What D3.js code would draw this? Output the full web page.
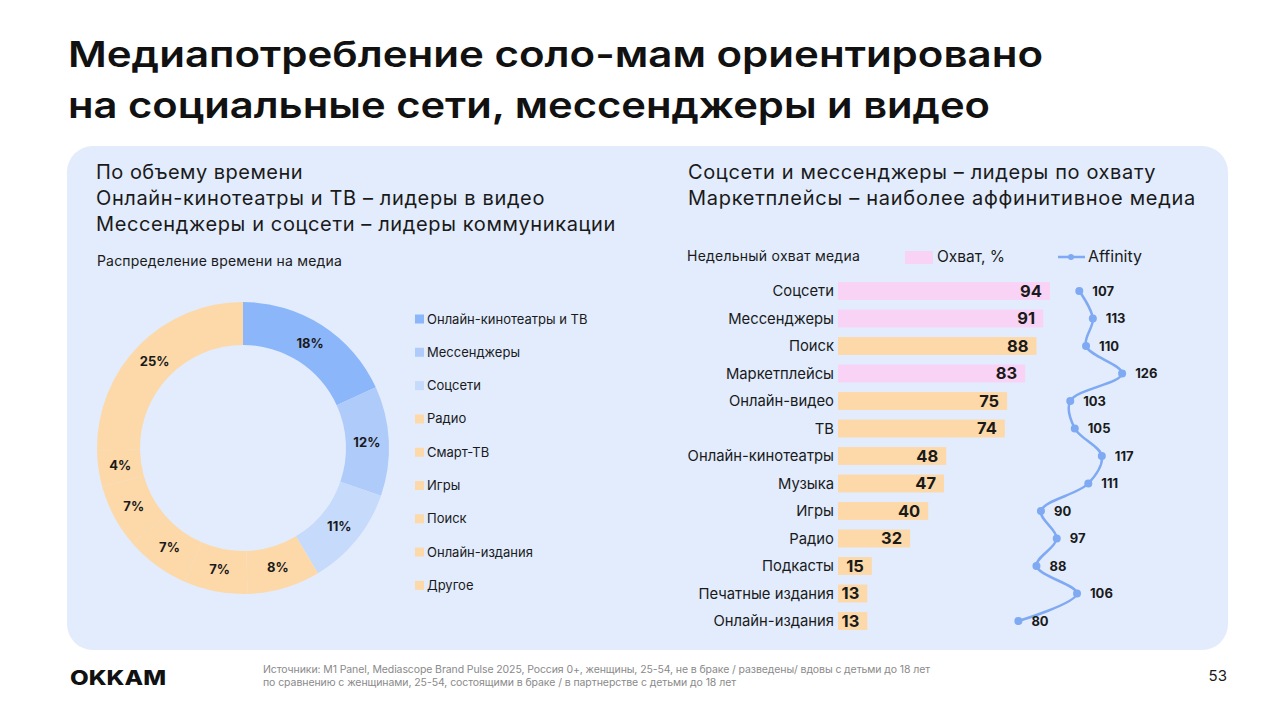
<!DOCTYPE html>
<html>
<head>
<meta charset="utf-8">
<script src="https://cdn.jsdelivr.net/npm/d3@7"></script>
<style>
  body { margin: 0; background: #fff; }
  svg { display: block; font-family: Inter, "Noto Sans", sans-serif; }
</style>
</head>
<body>
<div id="chart"></div>
<script>
// donut: share of time by media
const donutNames = ['Онлайн-кинотеатры и ТВ', 'Мессенджеры', 'Соцсети', 'Радио', 'Смарт-ТВ', 'Игры', 'Поиск', 'Онлайн-издания', 'Другое'];
const donutValues = [18, 12, 11, 8, 7, 7, 7, 4, 25];
const donutColors = ['#8cb6fa', '#afcbfa', '#c6dafc', '#fdd9a9', '#fdd9a9', '#fdd9a9', '#fdd9a9', '#fdd9a9', '#fdd9a9'];

// bars: weekly reach, affinity
const reachMedia = ['Соцсети', 'Мессенджеры', 'Поиск', 'Маркетплейсы', 'Онлайн-видео', 'ТВ', 'Онлайн-кинотеатры', 'Музыка', 'Игры', 'Радио', 'Подкасты', 'Печатные издания', 'Онлайн-издания'];
const reachValues = [94, 91, 88, 83, 75, 74, 48, 47, 40, 32, 15, 13, 13];
const affinityValues = [107, 113, 110, 126, 103, 105, 117, 111, 90, 97, 88, 106, 80];
const highlighted = ['Соцсети', 'Мессенджеры', 'Маркетплейсы'];

const width = 1280, height = 715;
const pink = '#f9d3f5', orange = '#fdd9a9', lineBlue = '#7fa9f3';

const svg = d3.select('#chart').append('svg')
  .attr('width', width).attr('height', height)
  .attr('viewBox', [0, 0, width, height]);

// stretch a text to a given width with letter-spacing (the slide font is wider than Inter)
function fit(sel, w) {
  sel.each(function () {
    const len = this.getComputedTextLength();
    const n = this.textContent.length;
    d3.select(this).attr('letter-spacing', (w - len) / n);
  });
}

// title - glyphs stretched, the slide uses a wide grotesque
const title = svg.append('g').attr('font-size', 36).attr('font-weight', 600).attr('fill', '#111');
title.append('text').attr('x', 68).attr('y', 67).attr('textLength', 975).attr('lengthAdjust', 'spacingAndGlyphs')
  .text('Медиапотребление соло-мам ориентировано');
title.append('text').attr('x', 68).attr('y', 118).attr('textLength', 922).attr('lengthAdjust', 'spacingAndGlyphs')
  .text('на социальные сети, мессенджеры и видео');

// panel
svg.append('rect').attr('x', 67).attr('y', 146).attr('width', 1161).attr('height', 504)
  .attr('rx', 26).attr('fill', '#e2ecfd');

const sub = svg.append('g').attr('font-size', 20).attr('fill', '#1a1a1a');
const subLeft = ['По объему времени', 'Онлайн-кинотеатры и ТВ – лидеры в видео', 'Мессенджеры и соцсети – лидеры коммуникации'];
const subLeftW = [207, 449, 520];
subLeft.forEach((t, i) => fit(sub.append('text').attr('x', 96).attr('y', 179 + i * 26).text(t), subLeftW[i]));
const subRight = ['Соцсети и мессенджеры – лидеры по охвату', 'Маркетплейсы – наиболее аффинитивное медиа'];
const subRightW = [468, 508];
subRight.forEach((t, i) => fit(sub.append('text').attr('x', 688).attr('y', 179 + i * 26).text(t), subRightW[i]));

fit(svg.append('text').attr('x', 97).attr('y', 266).attr('font-size', 14).attr('fill', '#1a1a1a')
  .text('Распределение времени на медиа'), 245);

// donut
const cx = 243, cy = 448, rOuter = 146, rInner = 103;
const pie = d3.pie().sort(null).value(d => d)(donutValues);
const arc = d3.arc().innerRadius(rInner).outerRadius(rOuter);
const labelArc = d3.arc().innerRadius(124).outerRadius(124);
const donut = svg.append('g').attr('transform', `translate(${cx},${cy})`);
donut.selectAll('path').data(pie).join('path')
  .attr('d', arc).attr('fill', (d, i) => donutColors[i]);
donut.selectAll('text').data(pie).join('text')
  .attr('transform', d => `translate(${labelArc.centroid(d)})`)
  .attr('text-anchor', 'middle').attr('dy', '0.35em')
  .attr('font-size', 13).attr('font-weight', 700).attr('fill', '#1a1a1a')
  .text(d => d.data + '%');

// donut legend
const leg = svg.append('g').selectAll('g').data(donutNames).join('g')
  .attr('transform', (d, i) => `translate(415,${319 + i * 33.3})`);
leg.append('rect').attr('x', 0).attr('y', -4.5).attr('width', 9).attr('height', 9)
  .attr('fill', (d, i) => donutColors[i]);
leg.append('text').attr('x', 12).attr('dy', '0.35em').attr('font-size', 13).attr('fill', '#1a1a1a').text(d => d);

// bar chart
const x = d3.scaleLinear().domain([0, 100]).range([838, 1063.5]);
const y = d3.scaleBand().domain(reachMedia).range([277.25, 634.75]).paddingInner(0.35).paddingOuter(0.175);

fit(svg.append('text').attr('x', 687).attr('y', 261).attr('font-size', 14).attr('fill', '#1a1a1a')
  .text('Недельный охват медиа'), 173);
svg.append('rect').attr('x', 905).attr('y', 251).attr('width', 28).attr('height', 13).attr('fill', pink);
svg.append('text').attr('x', 937).attr('y', 262).attr('font-size', 15.5).attr('fill', '#1a1a1a').text('Охват, %');
svg.append('line').attr('x1', 1058).attr('x2', 1085).attr('y1', 257).attr('y2', 257)
  .attr('stroke', lineBlue).attr('stroke-width', 2.5);
svg.append('circle').attr('cx', 1071).attr('cy', 257).attr('r', 3).attr('fill', lineBlue);
svg.append('text').attr('x', 1088).attr('y', 262).attr('font-size', 16).attr('fill', '#1a1a1a').text('Affinity');

const bars = svg.append('g');
bars.selectAll('rect').data(reachMedia).join('rect')
  .attr('x', x(0)).attr('y', d => y(d))
  .attr('width', (d, i) => x(reachValues[i]) - x(0)).attr('height', y.bandwidth())
  .attr('fill', d => highlighted.includes(d) ? pink : orange);
bars.selectAll('text.val').data(reachMedia).join('text').attr('class', 'val')
  .attr('x', (d, i) => x(reachValues[i]) - 8).attr('y', d => y(d) + y.bandwidth() / 2)
  .attr('dy', '0.36em').attr('text-anchor', 'end')
  .attr('font-size', 16.5).attr('font-weight', 700).attr('fill', '#1a1a1a')
  .text((d, i) => reachValues[i]);
bars.selectAll('text.cat').data(reachMedia).join('text').attr('class', 'cat')
  .attr('x', x(0) - 4).attr('y', d => y(d) + y.bandwidth() / 2)
  .attr('dy', '0.36em').attr('text-anchor', 'end')
  .attr('font-size', 14.8).attr('fill', '#1a1a1a').text(d => d);

// affinity line, same x scale
const pts = reachMedia.map((d, i) => [x(affinityValues[i]), y(d) + y.bandwidth() / 2]);
svg.append('path').datum(pts)
  .attr('d', d3.line().curve(d3.curveCatmullRom.alpha(0.5)))
  .attr('fill', 'none').attr('stroke', lineBlue).attr('stroke-width', 2.5);
svg.append('g').selectAll('circle').data(pts).join('circle')
  .attr('cx', d => d[0]).attr('cy', d => d[1]).attr('r', 4).attr('fill', lineBlue);
svg.append('g').selectAll('text').data(pts).join('text')
  .attr('x', d => d[0] + 13).attr('y', d => d[1]).attr('dy', '0.35em')
  .attr('font-size', 13).attr('font-weight', 700).attr('fill', '#1a1a1a')
  .text((d, i) => affinityValues[i]);

// footer
svg.append('text').attr('x', 70).attr('y', 685).attr('font-size', 20).attr('font-weight', 800)
  .attr('fill', '#111').attr('textLength', 96).attr('lengthAdjust', 'spacingAndGlyphs').text('OKKAM');
const foot = svg.append('g').attr('font-size', 10.5).attr('fill', '#8a8a8a');
fit(foot.append('text').attr('x', 263).attr('y', 673)
  .text('Источники: M1 Panel, Mediascope Brand Pulse 2025, Россия 0+, женщины, 25-54, не в браке / разведены/ вдовы с детьми до 18 лет'), 667);
fit(foot.append('text').attr('x', 263).attr('y', 686)
  .text('по сравнению с женщинами, 25-54, состоящими в браке / в партнерстве с детьми до 18 лет'), 473);
svg.append('text').attr('x', 1227).attr('y', 681).attr('text-anchor', 'end').attr('font-size', 15).attr('fill', '#1a1a1a').text('53');
</script>
</body>
</html>
